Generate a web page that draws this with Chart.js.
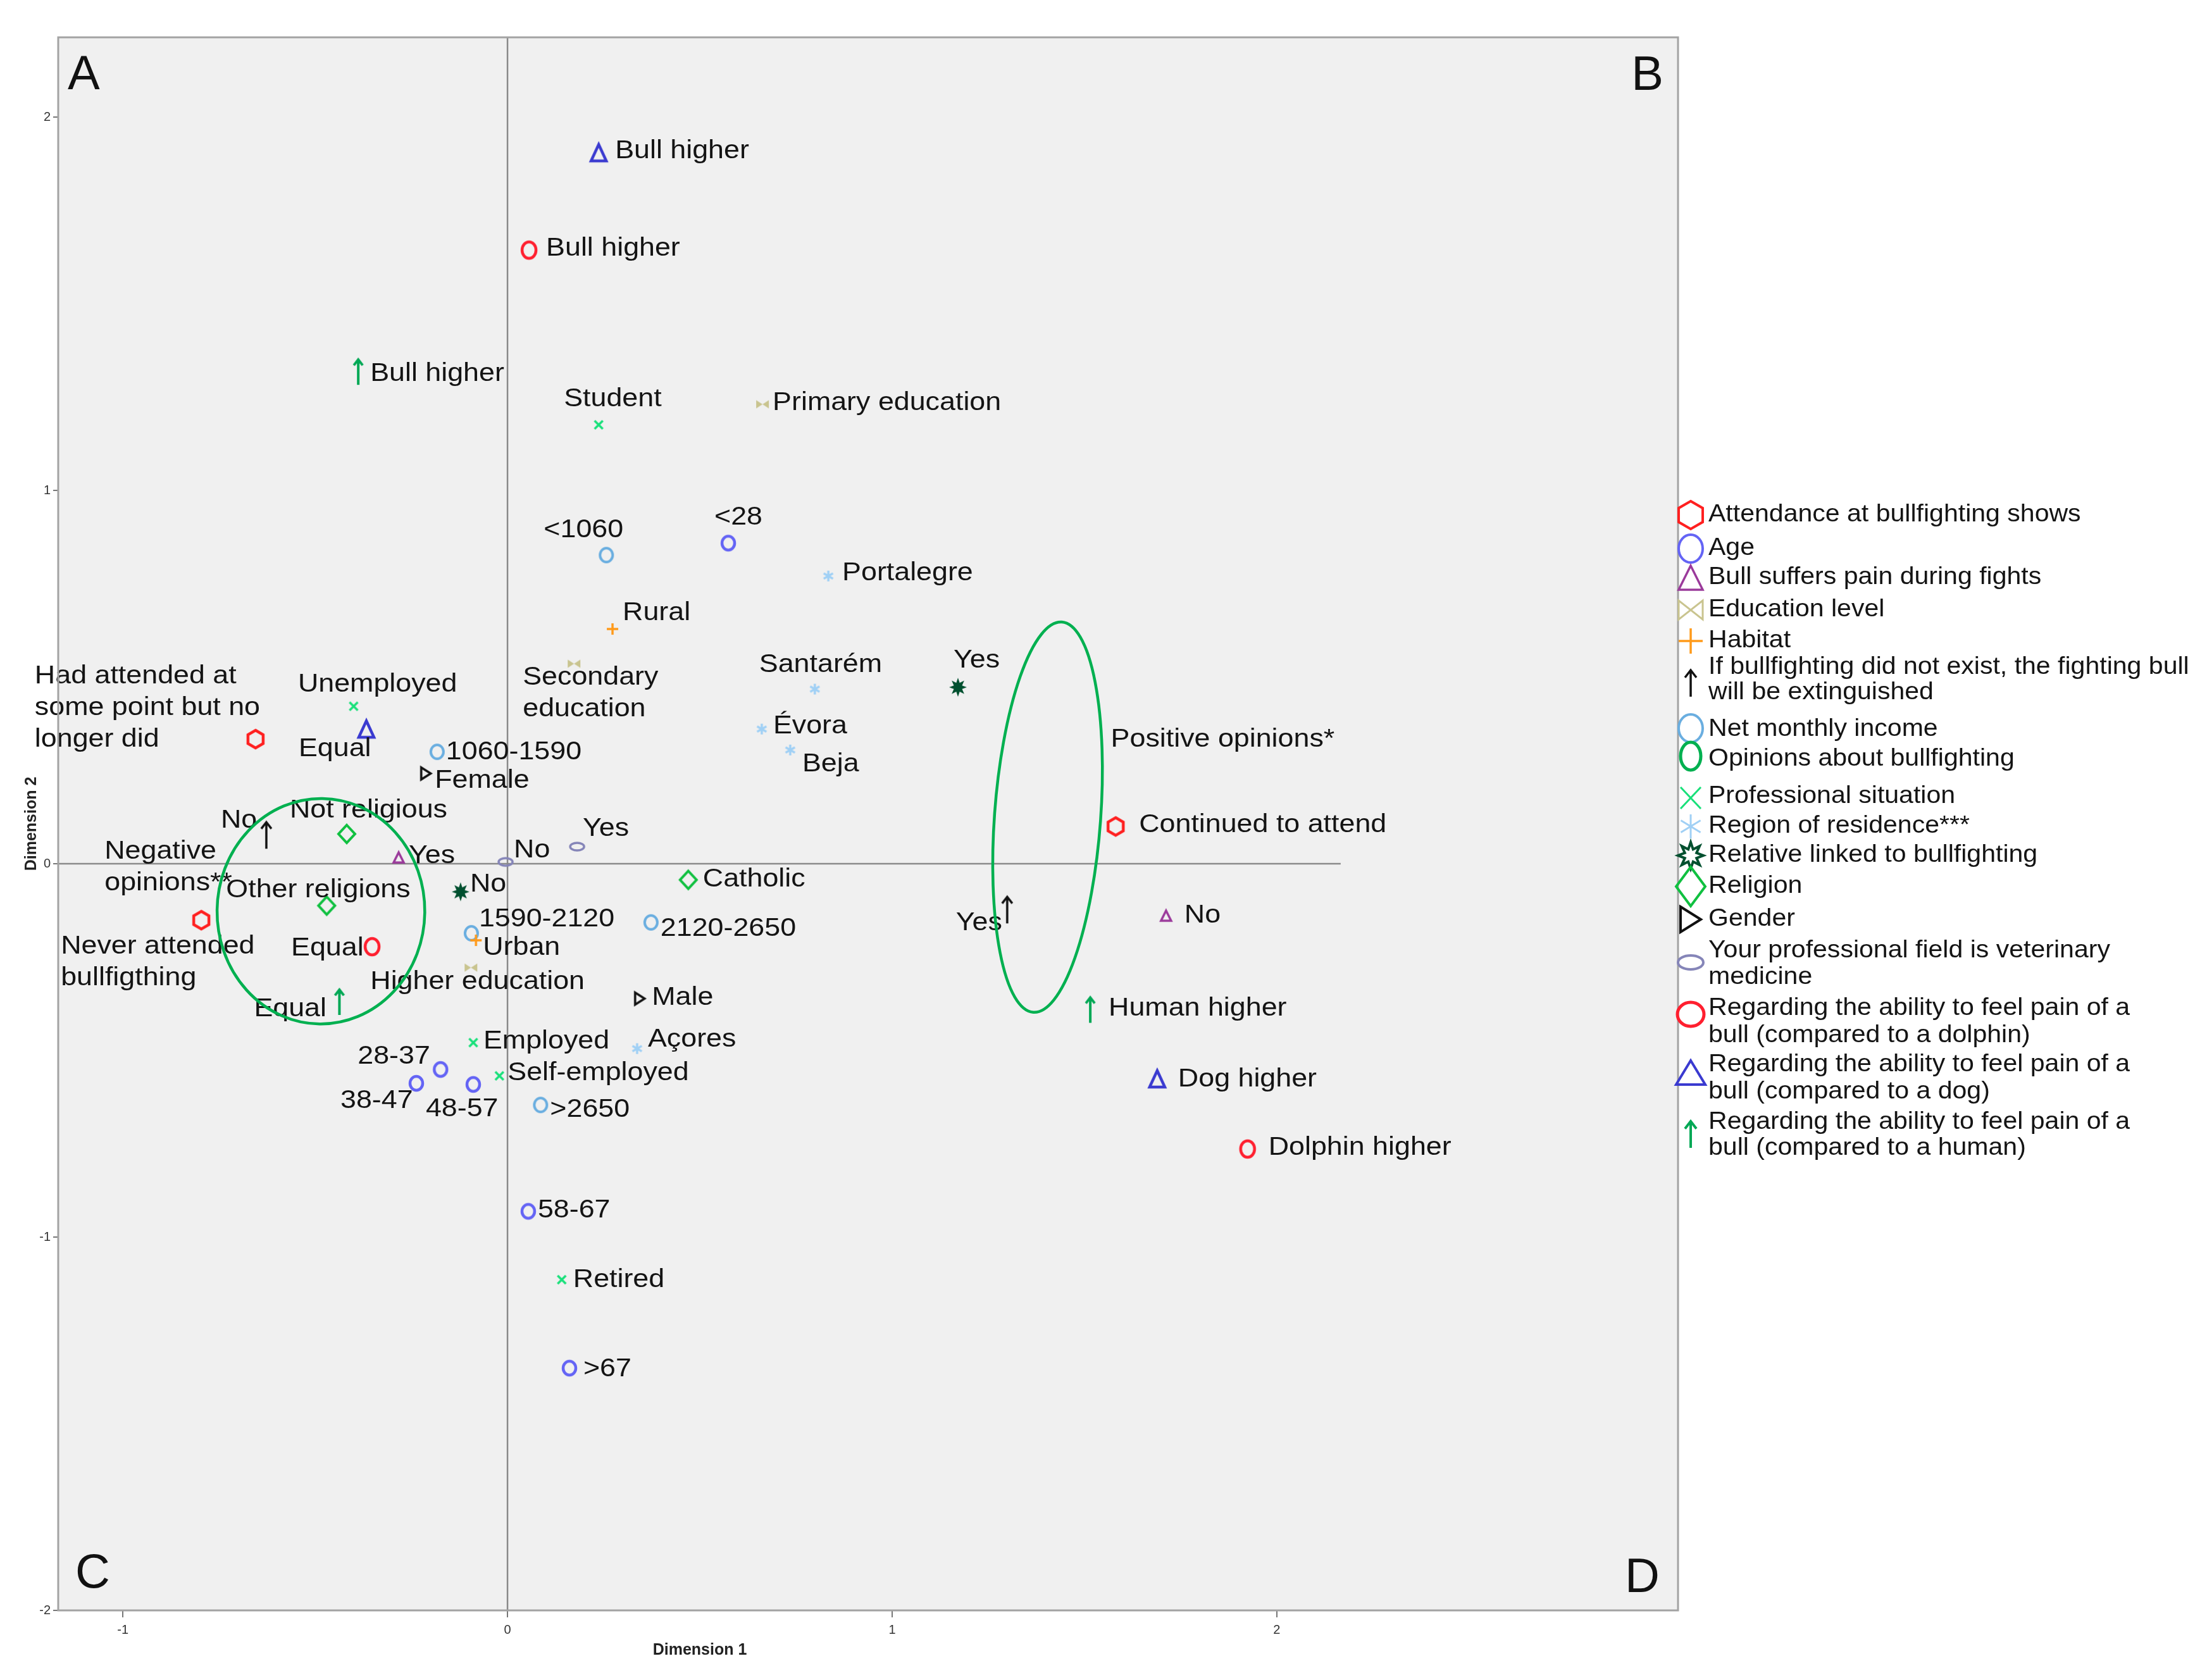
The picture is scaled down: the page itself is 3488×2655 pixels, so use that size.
<!DOCTYPE html>
<html>
<head>
<meta charset="utf-8">
<script src="https://cdn.jsdelivr.net/npm/chart.js@4.4.1/dist/chart.umd.min.js"></script>
<style>
    html, body { margin: 0; padding: 0; background: #fff; overflow: hidden; }
    canvas { display: block; }
</style>
</head>
<body>
<canvas id="mcaChart" width="3488" height="2655" style="width:3488px;height:2655px"></canvas>
<script>
// --- DATA (category quantifications, dimension 1 / dimension 2) ---
const xTicks = [-1, 0, 1, 2];
const yTicks = [-2, -1, 0, 1, 2];
const xRange = [-1.168, 3.043];
const yRange = [-2, 2.214];
const zeroLineEnd = 2.166;

const groupNames = [
    'Attendance at bullfighting shows',
    'Age',
    'Bull suffers pain during fights',
    'Education level',
    'Habitat',
    'If bullfighting did not exist, the fighting bull\nwill be extinguished',
    'Net monthly income',
    'Opinions about bullfighting',
    'Professional situation',
    'Region of residence***',
    'Relative linked to bullfighting',
    'Religion',
    'Gender',
    'Your professional field is veterinary\nmedicine',
    'Regarding the ability to feel pain of a\nbull (compared to a dolphin)',
    'Regarding the ability to feel pain of a\nbull (compared to a dog)',
    'Regarding the ability to feel pain of a\nbull (compared to a human)'
];

const attendLabels = ['Had attended at\nsome point but no\nlonger did', 'Never attended\nbullfigthing', 'Continued to attend'];
const attendX = [-0.655, -0.796, 1.581];
const attendY = [0.334, -0.151, 0.100];

const ageLabels = ['<28', '28-37', '38-47', '48-57', '58-67', '>67'];
const ageX = [0.574, -0.174, -0.237, -0.089, 0.054, 0.161];
const ageY = [0.859, -0.551, -0.588, -0.591, -0.931, -1.351];

const painLabels = ['Yes', 'No'];
const painX = [-0.283, 1.712];
const painY = [0.017, -0.139];

const eduLabels = ['Primary education', 'Secondary\neducation', 'Higher education'];
const eduX = [0.663, 0.173, -0.095];
const eduY = [1.231, 0.536, -0.278];

const habitatLabels = ['Rural', 'Urban'];
const habitatX = [0.273, -0.082];
const habitatY = [0.629, -0.205];

const extinctLabels = ['No', 'Yes'];
const extinctX = [-0.627, 1.299];
const extinctY = [0.076, -0.124];

const incomeLabels = ['<1060', '1060-1590', '1590-2120', '2120-2650', '>2650'];
const incomeX = [0.257, -0.183, -0.094, 0.373, 0.086];
const incomeY = [0.827, 0.300, -0.186, -0.157, -0.646];

const opinionLabels = ['Negative\nopinions**', 'Positive opinions*'];
const opinionX = [-0.485, 1.404];
const opinionY = [-0.127, 0.125];
const opinionSpreadX = [0.270, 0.138];
const opinionSpreadY = [0.302, 0.524];

const profLabels = ['Student', 'Unemployed', 'Employed', 'Self-employed', 'Retired'];
const profX = [0.237, -0.400, -0.089, -0.021, 0.141];
const profY = [1.176, 0.422, -0.479, -0.568, -1.114];

const regionLabels = ['Portalegre', 'Santarém', 'Évora', 'Beja', 'Açores'];
const regionX = [0.834, 0.799, 0.661, 0.735, 0.337];
const regionY = [0.771, 0.468, 0.361, 0.305, -0.495];

const relativeLabels = ['Yes', 'No'];
const relativeX = [1.171, -0.122];
const relativeY = [0.473, -0.075];

const religionLabels = ['Not religious', 'Other religions', 'Catholic'];
const religionX = [-0.418, -0.470, 0.470];
const religionY = [0.080, -0.112, -0.043];

const genderLabels = ['Female', 'Male'];
const genderX = [-0.212, 0.344];
const genderY = [0.242, -0.361];

const vetLabels = ['Yes', 'No'];
const vetX = [0.181, -0.005];
const vetY = [0.046, 0.005];

const dolphinLabels = ['Bull higher', 'Equal', 'Dolphin higher'];
const dolphinX = [0.056, -0.352, 1.924];
const dolphinY = [1.644, -0.222, -0.764];

const dogLabels = ['Bull higher', 'Equal', 'Dog higher'];
const dogX = [0.237, -0.367, 1.689];
const dogY = [1.905, 0.361, -0.576];

const humanLabels = ['Bull higher', 'Equal', 'Human higher'];
const humanX = [-0.388, -0.437, 1.515];
const humanY = [1.317, -0.371, -0.392];

// --- LABEL PLACEMENT (pixel offsets of each text from its marker) ---
const attendOffsets = [[-349, -99], [-222, 42], [37, -2]];
const ageOffsets = [[-22, -40], [-131, -20], [-120, 28], [-75, 39], [15, -1], [22, 2]];
const painOffsets = [[16, -2], [29, 0]];
const eduOffsets = [[16, -2], [-81, 22], [-159, 23]];
const habitatOffsets = [[16, -25], [11, 12]];
const extinctOffsets = [[-72, -23], [-81, 21]];
const incomeOffsets = [[-99, -39], [14, 1], [12, -22], [15, 10], [15, 8]];
const opinionOffsets = [[-342, -94], [100, -122]];
const profOffsets = [[-55, -40], [-88, -34], [16, -2], [13, -4], [18, 1]];
const regionOffsets = [[22, -4], [-88, -38], [18, -4], [19, 23], [17, -14]];
const relativeOffsets = [[-7, -42], [15, -11]];
const religionOffsets = [[-90, -37], [-159, -24], [23, -1]];
const genderOffsets = [[14, 12], [19, -1]];
const vetOffsets = [[9, -28], [13, -18]];
const dolphinOffsets = [[27, -2], [-128, 3], [33, -2]];
const dogOffsets = [[26, -2], [-107, 32], [33, 1]];
const humanOffsets = [[19, 3], [-135, 11], [29, -2]];
const opinionTilt = [0.012, 0.073];

// --- MARKER SYMBOLS ---
function makeMarker(shape, color, w, h, lw, filled) {
    const pad = Math.ceil(lw) + 2;
    const c = document.createElement('canvas');
    c.width = Math.round(w + pad * 2);
    c.height = Math.round(h + pad * 2);
    const g = c.getContext('2d');
    const cx = c.width / 2, cy = c.height / 2, rx = w / 2, ry = h / 2;
    g.strokeStyle = color;
    g.fillStyle = color;
    g.lineWidth = lw;
    g.lineJoin = 'miter';
    g.beginPath();
    if (shape === 'hexagon') {
        for (let k = 0; k < 6; k++) {
            const a = -Math.PI / 2 + k * Math.PI / 3;
            const px = cx + rx * Math.cos(a) / Math.cos(Math.PI / 6);
            const py = cy + ry * Math.sin(a);
            if (k === 0) g.moveTo(px, py); else g.lineTo(px, py);
        }
        g.closePath();
    } else if (shape === 'circle') {
        g.ellipse(cx, cy, rx, ry, 0, 0, Math.PI * 2);
    } else if (shape === 'triangle') {
        g.moveTo(cx, cy - ry);
        g.lineTo(cx + rx, cy + ry);
        g.lineTo(cx - rx, cy + ry);
        g.closePath();
    } else if (shape === 'bowtie') {
        g.moveTo(cx - rx, cy - ry);
        g.lineTo(cx - rx, cy + ry);
        g.lineTo(cx + rx, cy - ry);
        g.lineTo(cx + rx, cy + ry);
        g.closePath();
    } else if (shape === 'plus') {
        g.moveTo(cx - rx, cy); g.lineTo(cx + rx, cy);
        g.moveTo(cx, cy - ry); g.lineTo(cx, cy + ry);
    } else if (shape === 'cross') {
        g.moveTo(cx - rx, cy - ry); g.lineTo(cx + rx, cy + ry);
        g.moveTo(cx + rx, cy - ry); g.lineTo(cx - rx, cy + ry);
    } else if (shape === 'asterisk') {
        for (let k = 0; k < 3; k++) {
            const a = Math.PI / 2 + k * Math.PI / 3;
            g.moveTo(cx + rx * Math.cos(a), cy + ry * Math.sin(a));
            g.lineTo(cx - rx * Math.cos(a), cy - ry * Math.sin(a));
        }
    } else if (shape === 'burst') {
        for (let k = 0; k < 16; k++) {
            const a = -Math.PI / 2 + k * Math.PI / 8;
            const f = k % 2 === 0 ? 1 : 0.5;
            const px = cx + rx * f * Math.cos(a);
            const py = cy + ry * f * Math.sin(a);
            if (k === 0) g.moveTo(px, py); else g.lineTo(px, py);
        }
        g.closePath();
    } else if (shape === 'diamond') {
        g.moveTo(cx, cy - ry);
        g.lineTo(cx + rx, cy);
        g.lineTo(cx, cy + ry);
        g.lineTo(cx - rx, cy);
        g.closePath();
    } else if (shape === 'rightTri') {
        g.moveTo(cx - rx, cy - ry);
        g.lineTo(cx + rx, cy);
        g.lineTo(cx - rx, cy + ry);
        g.closePath();
    } else if (shape === 'arrow') {
        g.moveTo(cx, cy + ry);
        g.lineTo(cx, cy - ry + 1);
        g.moveTo(cx - rx, cy - ry + rx * 1.3);
        g.lineTo(cx, cy - ry);
        g.lineTo(cx + rx, cy - ry + rx * 1.3);
    }
    if (filled) g.fill(); else g.stroke();
    return c;
}

const groups = [
    { labels: attendLabels, xs: attendX, ys: attendY, offsets: attendOffsets,
      marker: makeMarker('hexagon', '#ff2020', 24, 28, 4.5), key: makeMarker('hexagon', '#ff2020', 38, 44, 4) },
    { labels: ageLabels, xs: ageX, ys: ageY, offsets: ageOffsets,
      marker: makeMarker('circle', '#6464f5', 20, 22, 4.5), key: makeMarker('circle', '#6464f5', 38, 44, 4) },
    { labels: painLabels, xs: painX, ys: painY, offsets: painOffsets,
      marker: makeMarker('triangle', '#9b3a9b', 16, 16, 3.5), key: makeMarker('triangle', '#9b3a9b', 38, 38, 3.5) },
    { labels: eduLabels, xs: eduX, ys: eduY, offsets: eduOffsets,
      marker: makeMarker('bowtie', '#c9c48f', 20, 13, 2, true), key: makeMarker('bowtie', '#c9c48f', 38, 30, 3) },
    { labels: habitatLabels, xs: habitatX, ys: habitatY, offsets: habitatOffsets,
      marker: makeMarker('plus', '#ff9a1a', 18, 18, 3.5), key: makeMarker('plus', '#ff9a1a', 38, 40, 3.5) },
    { labels: extinctLabels, xs: extinctX, ys: extinctY, offsets: extinctOffsets,
      marker: makeMarker('arrow', '#111111', 16, 42, 3.5), key: makeMarker('arrow', '#111111', 18, 42, 3.5) },
    { labels: incomeLabels, xs: incomeX, ys: incomeY, offsets: incomeOffsets,
      marker: makeMarker('circle', '#6aaee0', 20, 22, 4), key: makeMarker('circle', '#6aaee0', 38, 44, 4) },
    { labels: opinionLabels, xs: opinionX, ys: opinionY, offsets: opinionOffsets,
      marker: null, key: makeMarker('circle', '#00b050', 32, 44, 5) },
    { labels: profLabels, xs: profX, ys: profY, offsets: profOffsets,
      marker: makeMarker('cross', '#19e07a', 13, 13, 3.5), key: makeMarker('cross', '#19e07a', 32, 34, 3) },
    { labels: regionLabels, xs: regionX, ys: regionY, offsets: regionOffsets,
      marker: makeMarker('asterisk', '#a0d0f5', 17, 17, 3.5), key: makeMarker('asterisk', '#a0d0f5', 36, 38, 3) },
    { labels: relativeLabels, xs: relativeX, ys: relativeY, offsets: relativeOffsets,
      marker: makeMarker('burst', '#00502f', 28, 30, 1, true), key: makeMarker('burst', '#00502f', 40, 42, 4) },
    { labels: religionLabels, xs: religionX, ys: religionY, offsets: religionOffsets,
      marker: makeMarker('diamond', '#10c040', 26, 28, 4), key: makeMarker('diamond', '#10c040', 46, 62, 4) },
    { labels: genderLabels, xs: genderX, ys: genderY, offsets: genderOffsets,
      marker: makeMarker('rightTri', '#111111', 15, 19, 3.5), key: makeMarker('rightTri', '#111111', 32, 40, 4) },
    { labels: vetLabels, xs: vetX, ys: vetY, offsets: vetOffsets,
      marker: makeMarker('circle', '#8585b8', 22, 12, 3.5), key: makeMarker('circle', '#8585b8', 40, 22, 4) },
    { labels: dolphinLabels, xs: dolphinX, ys: dolphinY, offsets: dolphinOffsets,
      marker: makeMarker('circle', '#ff1f2f', 22, 26, 4.5), key: makeMarker('circle', '#ff1f2f', 42, 38, 5) },
    { labels: dogLabels, xs: dogX, ys: dogY, offsets: dogOffsets,
      marker: makeMarker('triangle', '#3a3ad0', 24, 26, 4.5), key: makeMarker('triangle', '#3a3ad0', 46, 38, 4) },
    { labels: humanLabels, xs: humanX, ys: humanY, offsets: humanOffsets,
      marker: makeMarker('arrow', '#00a855', 14, 40, 4), key: makeMarker('arrow', '#00a855', 18, 42, 4) }
];

const OPINIONS = 7;
const FONT = '"Liberation Sans", Arial, sans-serif';

// legend rows: text line centres and marker centre (px)
const legendRows = [
    [[814], 814], [[867], 867], [[913], 913], [[964], 964], [[1013], 1013],
    [[1055, 1095], 1080], [[1153], 1151], [[1200], 1195], [[1259], 1261],
    [[1306], 1306], [[1352], 1352], [[1401], 1401], [[1453], 1453],
    [[1503, 1545], 1521], [[1594, 1637], 1603], [[1683, 1726], 1695], [[1774, 1815], 1793]
];

function stretchText(ctx, text, x, y, size, sx) {
    ctx.save();
    ctx.translate(x, y);
    ctx.scale(sx, 1);
    ctx.font = size + 'px ' + FONT;
    ctx.fillText(text, 0, 0);
    ctx.restore();
}

const mcaDecor = {
    id: 'mcaDecor',
    beforeDraw(chart) {
        const { ctx, chartArea: a } = chart;
        ctx.save();
        ctx.fillStyle = '#f0f0f0';
        ctx.fillRect(a.left, a.top, a.right - a.left, a.bottom - a.top);
        ctx.restore();
    },
    beforeDatasetsDraw(chart) {
        const { ctx, chartArea: a, scales } = chart;
        const x0 = scales.x.getPixelForValue(0);
        const y0 = scales.y.getPixelForValue(0);
        ctx.save();
        ctx.strokeStyle = '#8a8a8a';
        ctx.lineWidth = 2.5;
        ctx.beginPath();
        ctx.moveTo(x0, a.top);
        ctx.lineTo(x0, a.bottom);
        ctx.moveTo(a.left, y0);
        ctx.lineTo(scales.x.getPixelForValue(zeroLineEnd), y0);
        ctx.stroke();
        ctx.restore();
    },
    afterDatasetsDraw(chart) {
        const { ctx, scales } = chart;
        ctx.save();
        ctx.fillStyle = '#141414';
        ctx.textBaseline = 'middle';
        ctx.textAlign = 'left';
        groups.forEach((grp, gi) => {
            const meta = chart.getDatasetMeta(gi);
            meta.data.forEach((pt, j) => {
                const lines = grp.labels[j].split('\n');
                const [dx, dy] = grp.offsets[j];
                lines.forEach((ln, k) => stretchText(ctx, ln, pt.x + dx, pt.y + dy + k * 50, 40, 1.12));
            });
        });
        // opinion ellipses
        const om = chart.getDatasetMeta(OPINIONS);
        ctx.strokeStyle = '#00b050';
        ctx.lineWidth = 4.5;
        om.data.forEach((pt, j) => {
            const rx = Math.abs(scales.x.getPixelForValue(opinionX[j] + opinionSpreadX[j]) - pt.x);
            const ry = Math.abs(scales.y.getPixelForValue(opinionY[j] + opinionSpreadY[j]) - pt.y);
            ctx.beginPath();
            ctx.ellipse(pt.x, pt.y, rx, ry, opinionTilt[j], 0, Math.PI * 2);
            ctx.stroke();
        });
        ctx.restore();
    },
    afterDraw(chart) {
        const { ctx, chartArea: a, scales } = chart;
        ctx.save();
        // frame
        ctx.strokeStyle = '#a3a3a3';
        ctx.lineWidth = 3;
        ctx.strokeRect(a.left, a.top, a.right - a.left, a.bottom - a.top);
        // quadrant letters
        ctx.fillStyle = '#111';
        ctx.font = '76px ' + FONT;
        ctx.textBaseline = 'alphabetic';
        ctx.textAlign = 'left';
        ctx.fillText('A', a.left + 15, a.top + 82);
        ctx.fillText('C', a.left + 27, a.bottom - 36);
        ctx.textAlign = 'right';
        ctx.fillText('B', a.right - 23, a.top + 83);
        ctx.fillText('D', a.right - 29, a.bottom - 29);
        // axis titles
        ctx.font = 'bold 25px ' + FONT;
        ctx.fillStyle = '#222';
        ctx.textAlign = 'center';
        ctx.fillText('Dimension 1', scales.x.getPixelForValue(0.5), a.bottom + 70);
        ctx.save();
        ctx.translate(57, (a.top + a.bottom) / 2);
        ctx.rotate(-Math.PI / 2);
        ctx.fillText('Dimension 2', 0, 0);
        ctx.restore();
        // legend
        ctx.fillStyle = '#141414';
        ctx.textAlign = 'left';
        ctx.textBaseline = 'middle';
        groups.forEach((grp, gi) => {
            const [lineYs, markY] = legendRows[gi];
            const key = grp.key;
            ctx.drawImage(key, 2672 - key.width / 2, markY - key.height / 2);
            groupNames[gi].split('\n').forEach((ln, k) => stretchText(ctx, ln, 2700, lineYs[k], 38, 1.08));
        });
        ctx.restore();
    }
};

new Chart(document.getElementById('mcaChart').getContext('2d'), {
    type: 'scatter',
    data: {
        datasets: groups.map((grp, gi) => ({
            label: groupNames[gi],
            data: grp.xs.map((x, i) => ({ x: x, y: grp.ys[i] })),
            pointStyle: grp.marker || 'circle',
            pointRadius: grp.marker ? 10 : 0,
            showLine: false
        }))
    },
    options: {
        responsive: false,
        animation: false,
        devicePixelRatio: 1,
        events: [],
        layout: { padding: { left: 0, top: 59, right: 836, bottom: 0 } },
        plugins: { legend: { display: false }, tooltip: { enabled: false } },
        scales: {
            x: {
                type: 'linear',
                min: xRange[0], max: xRange[1],
                afterBuildTicks: (axis) => { axis.ticks = xTicks.map(v => ({ value: v })); },
                afterFit: (axis) => { axis.height = 110; },
                border: { display: false },
                grid: { drawOnChartArea: false, drawTicks: true, tickLength: 11, color: '#777', lineWidth: 2 },
                ticks: { autoSkip: false, maxRotation: 0, padding: 8, color: '#333', font: { size: 20, family: FONT }, callback: v => String(v) }
            },
            y: {
                type: 'linear',
                min: yRange[0], max: yRange[1],
                afterBuildTicks: (axis) => { axis.ticks = yTicks.map(v => ({ value: v })); },
                afterFit: (axis) => { axis.width = 92; },
                border: { display: false },
                grid: { drawOnChartArea: false, drawTicks: true, tickLength: 8, color: '#777', lineWidth: 2 },
                ticks: { autoSkip: false, padding: 4, color: '#333', font: { size: 20, family: FONT }, callback: v => String(v) }
            }
        }
    },
    plugins: [mcaDecor]
});
</script>
</body>
</html>
